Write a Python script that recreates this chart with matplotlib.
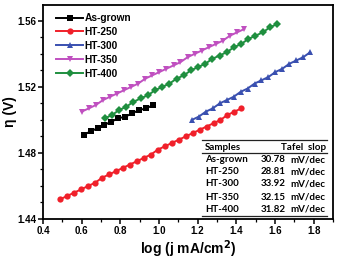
import matplotlib
matplotlib.use("Agg")
import matplotlib.pyplot as plt
from matplotlib.ticker import MultipleLocator
from matplotlib.lines import Line2D

# ---- data ----
asgrown_x = [0.610, 0.646, 0.682, 0.718, 0.754, 0.790, 0.826, 0.862, 0.898, 0.934, 0.970]
asgrown_y = [1.491, 1.493, 1.495, 1.497, 1.499, 1.501, 1.502, 1.504, 1.506, 1.507, 1.509]

ht250_x = [0.490, 0.526, 0.562, 0.598, 0.634, 0.670, 0.706, 0.742, 0.778, 0.814, 0.850,
           0.886, 0.922, 0.958, 0.994, 1.030, 1.066, 1.102, 1.138, 1.174, 1.210, 1.246,
           1.282, 1.318, 1.354, 1.390, 1.426]
ht250_y = [1.452, 1.454, 1.456, 1.458, 1.460, 1.462, 1.465, 1.467, 1.469, 1.471, 1.473,
           1.475, 1.477, 1.479, 1.482, 1.484, 1.486, 1.488, 1.490, 1.492, 1.494, 1.496,
           1.498, 1.500, 1.503, 1.505, 1.507]

ht300_x = [1.170, 1.206, 1.242, 1.278, 1.314, 1.350, 1.386, 1.422, 1.458, 1.494, 1.530,
           1.566, 1.602, 1.638, 1.674, 1.710, 1.746, 1.782]
ht300_y = [1.500, 1.502, 1.505, 1.507, 1.510, 1.512, 1.514, 1.517, 1.519, 1.522, 1.524,
           1.526, 1.529, 1.531, 1.534, 1.536, 1.538, 1.541]

ht350_x = [0.600, 0.637, 0.673, 0.710, 0.746, 0.783, 0.819, 0.856, 0.892, 0.929, 0.965,
           1.002, 1.038, 1.075, 1.111, 1.148, 1.184, 1.221, 1.257, 1.294, 1.330, 1.367,
           1.403, 1.440]
ht350_y = [1.505, 1.507, 1.509, 1.512, 1.514, 1.516, 1.518, 1.520, 1.522, 1.525, 1.527,
           1.529, 1.531, 1.533, 1.535, 1.538, 1.540, 1.542, 1.544, 1.546, 1.548, 1.551,
           1.553, 1.555]

ht400_x = [0.720, 0.757, 0.794, 0.831, 0.868, 0.905, 0.943, 0.980, 1.017, 1.054, 1.091,
           1.128, 1.165, 1.202, 1.239, 1.276, 1.313, 1.350, 1.388, 1.425, 1.462, 1.499,
           1.536, 1.573, 1.610]
ht400_y = [1.501, 1.503, 1.506, 1.508, 1.511, 1.513, 1.515, 1.518, 1.520, 1.522, 1.525,
           1.527, 1.530, 1.532, 1.534, 1.537, 1.539, 1.541, 1.544, 1.546, 1.549, 1.551,
           1.553, 1.556, 1.558]

series_names = ["As-grown", "HT-250", "HT-300", "HT-350", "HT-400"]
tafel_slopes = ["30.78", "28.81", "33.92", "32.15", "31.82"]

colors = ["#000000", "#f0202a", "#3a50b0", "#c050c0", "#1f8f3f"]
markers = ["s", "o", "^", "v", "D"]
msizes = [4.3, 4.5, 4.6, 4.6, 4.0]

W, H = 338, 261
plt.rcParams['font.family'] = ['Liberation Sans', 'DejaVu Sans']
fig = plt.figure(figsize=(W / 100, H / 100), dpi=100)
L, R, T, B = 43, 333, 5, 219
ax = fig.add_axes([L / W, 1 - B / H, (R - L) / W, (B - T) / H])

xs = [asgrown_x, ht250_x, ht300_x, ht350_x, ht400_x]
ys = [asgrown_y, ht250_y, ht300_y, ht350_y, ht400_y]
for x, y, c, m, ms, name in zip(xs, ys, colors, markers, msizes, series_names):
    ax.plot(x, y, color=c, marker=m, markersize=ms, linewidth=1.4, label=name,
            markeredgewidth=0)

ax.xaxis.set_major_locator(MultipleLocator(0.2))
ax.xaxis.set_minor_locator(MultipleLocator(0.1))
ax.yaxis.set_major_locator(MultipleLocator(0.04))
ax.yaxis.set_minor_locator(MultipleLocator(0.01))
ax.set_xlim(0.4, 1.9)
ax.set_ylim(1.44, 1.5696)
ax.tick_params(which='major', direction='out', length=3.5, width=1.1, labelsize=7, pad=1.5)
ax.tick_params(which='minor', direction='out', length=2, width=0.9)
ax.xaxis.set_major_formatter(plt.FuncFormatter(lambda v, p: f"{v:.1f}"))
ax.yaxis.set_major_formatter(plt.FuncFormatter(lambda v, p: f"{v:.2f}"))
for lab in ax.get_xticklabels() + ax.get_yticklabels():
    lab.set_fontweight('bold')
for sp in ax.spines.values():
    sp.set_linewidth(1.3)

fig.text(188 / W, 1 - 249 / H, "log (j mA/cm$^\\mathbf{2}$)", ha='center', va='center',
         fontsize=10, fontweight='bold')
fig.text(10 / W, 1 - 112 / H, "η (V)", ha='center', va='center', rotation=90,
         fontsize=10, fontweight='bold')

leg = ax.legend(loc='upper left', bbox_to_anchor=(0.02, 0.995), frameon=False,
                prop={'size': 7.3, 'weight': 'bold'}, handlelength=2.7,
                handletextpad=0.12, labelspacing=0.38, borderaxespad=0.3)

# ---- inset table ----
def fx(px):
    return px / W

def fy(py):
    return 1 - py / H

tfont = dict(family=['Lato', 'DejaVu Sans'], fontweight='bold', fontsize=7)
for py in (140, 153, 216):
    fig.add_artist(Line2D([fx(202), fx(327)], [fy(py), fy(py)], color='#222222',
                          linewidth=0.9))
fig.text(fx(205), fy(147), "Samples", ha='left', va='center', **tfont)
fig.text(fx(326), fy(147), "Tafel  slop", ha='right', va='center', **tfont)
row_y = [160, 172, 184, 197, 209]
for name, val, py in zip(series_names, tafel_slopes, row_y):
    fig.text(fx(205), fy(py), name, ha='left', va='center', **tfont)
    fig.text(fx(261), fy(py), val, ha='left', va='center', **tfont)
    fig.text(fx(325), fy(py), "mV/dec", ha='right', va='center', **tfont)

fig.savefig("out.png", dpi=100)
